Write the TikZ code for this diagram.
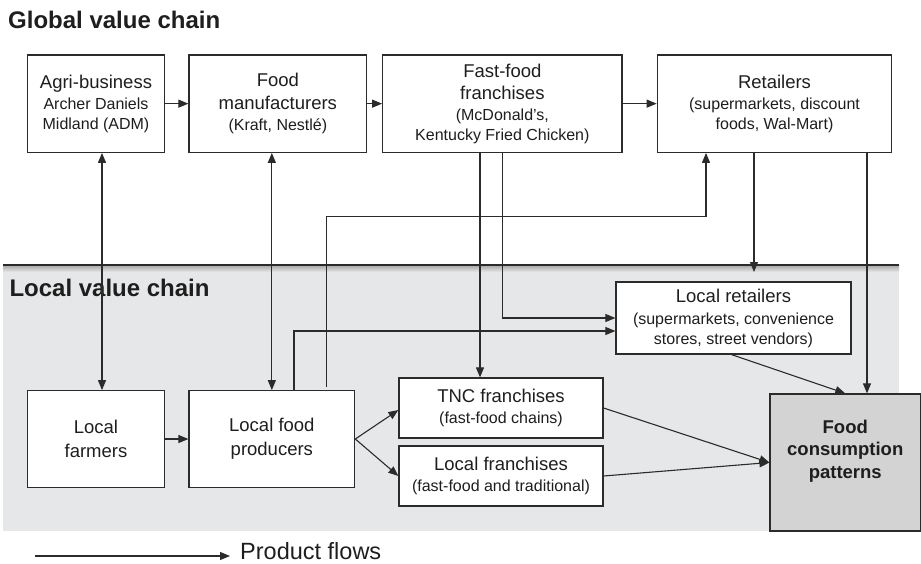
\documentclass[tikz,border=0pt]{standalone}
\usepackage{fontspec}
\setmainfont{Liberation Sans}
\usetikzlibrary{arrows.meta,calc}
\definecolor{linec}{HTML}{2B2B2B}
\definecolor{txt}{HTML}{1E1E1E}
\definecolor{grayfill}{HTML}{E6E7E8}
\definecolor{foodfill}{HTML}{D3D3D3}
\newcommand\mf{\fontsize{18.5}{23}\selectfont}
\newcommand\subf{\fontsize{16}{19.5}\selectfont}
\begin{document}
\begin{tikzpicture}[x=1pt,y=-1pt,
  box/.style={draw=linec, line width=1.2pt, fill=white, inner sep=0pt, align=center, text=txt, font=\mf},
  arr/.style={draw=linec, line width=1.1pt, -{Triangle[length=10pt,width=8pt]}},
  dbl/.style={draw=linec, line width=1.1pt, {Triangle[length=10pt,width=8pt]}-{Triangle[length=10pt,width=8pt]}},
  ttl/.style={font=\bfseries\fontsize{24}{28}\selectfont, text=txt, inner sep=0pt, anchor=base west}]
\useasboundingbox (0,0) rectangle (921,563);
% local region
\fill[grayfill] (3,265) rectangle (899,531);
\shade[top color=black!35, bottom color=grayfill] (3,265) rectangle (899,272);
\draw[linec, line width=2.6pt] (3,265) -- (899,265);
% titles
\node[ttl] (gtitle) at (8,28.3) {Global value chain};
\node[ttl] (ltitle) at (9.3,296.7) {Local value chain};
% top row
\node[box, minimum width=136.6pt, minimum height=97.3pt] (agri) at (96,103.65)
  {Agri-business\\[-2pt]\subf Archer Daniels\\[-3pt]\subf Midland (ADM)};
\node[box, minimum width=177.7pt, minimum height=97.3pt] (manuf) at (277.85,103.65)
  {Food\\[-0.5pt]manufacturers\\[-2pt]\subf (Kraft, Nestlé)};
\node[box, minimum width=239.3pt, minimum height=97.3pt] (fast) at (502.35,103.65)
  {Fast-food\\[-0.5pt]franchises\\[-2.5pt]\subf (McDonald’s,\\[-3pt]\subf Kentucky Fried Chicken)};
\node[box, minimum width=234.4pt, minimum height=97.3pt] (retail) at (774.5,103.65)
  {Retailers\\[-2pt]\subf (supermarkets, discount\\[-3pt]\subf foods, Wal-Mart)};
% local row
\node[box, minimum width=136.6pt, minimum height=96.6pt] (farmers) at (96,439)
  {Local\\[1pt]farmers};
\node[box, minimum width=165.7pt, minimum height=96.6pt] (producers) at (271.85,439)
  {Local food\\[1pt]producers};
\node[box, minimum width=204pt, minimum height=60pt] (tnc) at (501,408)
  {TNC franchises\\[-2.5pt]\subf (fast-food chains)};
\node[box, minimum width=204pt, minimum height=60pt] (lfr) at (501,476)
  {Local franchises\\[-2.5pt]\subf (fast-food and traditional)};
\node[box, minimum width=235pt, minimum height=72pt] (lret) at (733.5,318)
  {Local retailers\\[-1pt]\subf (supermarkets, convenience\\[-3pt]\subf stores, street vendors)};
\node[box, fill=foodfill, minimum width=150.5pt, minimum height=137pt, font=\bfseries\fontsize{18.5}{22.5}\selectfont] (food) at (845.25,462.5)
  {Food\\consumption\\patterns\\[4pt]};
% helper coordinates
\coordinate (c480) at (480,0);
\coordinate (c294) at (294,0);
\coordinate (c867) at (867,0);
\coordinate (rlend) at (754,272);
\coordinate (s1) at (326.7,387);
\coordinate (k) at (706,216.7);
% connectors
\draw[arr] (agri) -- (manuf);
\draw[arr] (manuf) -- (fast);
\draw[arr] (fast) -- (retail);
\draw[dbl] ([xshift=6pt]agri.south) -- ([xshift=6pt]farmers.north);
\draw[dbl] (manuf.south -| producers.north) -- (producers.north);
\draw[arr] (farmers) -- (producers);
\draw[arr] (producers.east) -- ([yshift=-2pt]tnc.west);
\draw[arr] (producers.east) -- (lfr.west);
\draw[arr] (tnc.east) -- (food.west);
\draw[arr] (lfr.east) -- (food.west);
\draw[arr] ([xshift=-2pt]lret.south) -- (food.north);
\draw[arr] (retail.south -| rlend) -- (rlend);
\draw[arr] (retail.south -| c867) -- (food.north -| c867);
\draw[arr] (fast.south -| c480) -- (tnc.north -| c480);
\draw[arr] (fast.south) |- (lret.west);
\draw[arr] (producers.north -| c294) |- ([yshift=-13pt]lret.west);
\draw[arr] (s1) |- (k) -- (retail.south -| k);
% legend
\coordinate (l1) at (35,556);
\coordinate (l2) at (230,556);
\node[inner sep=0pt, anchor=base west, text=txt, font=\fontsize{23.5}{28}\selectfont] (legend) at (240,559) {Product flows};
\draw[arr] (l1) -- (l2);
\end{tikzpicture}
\end{document}
